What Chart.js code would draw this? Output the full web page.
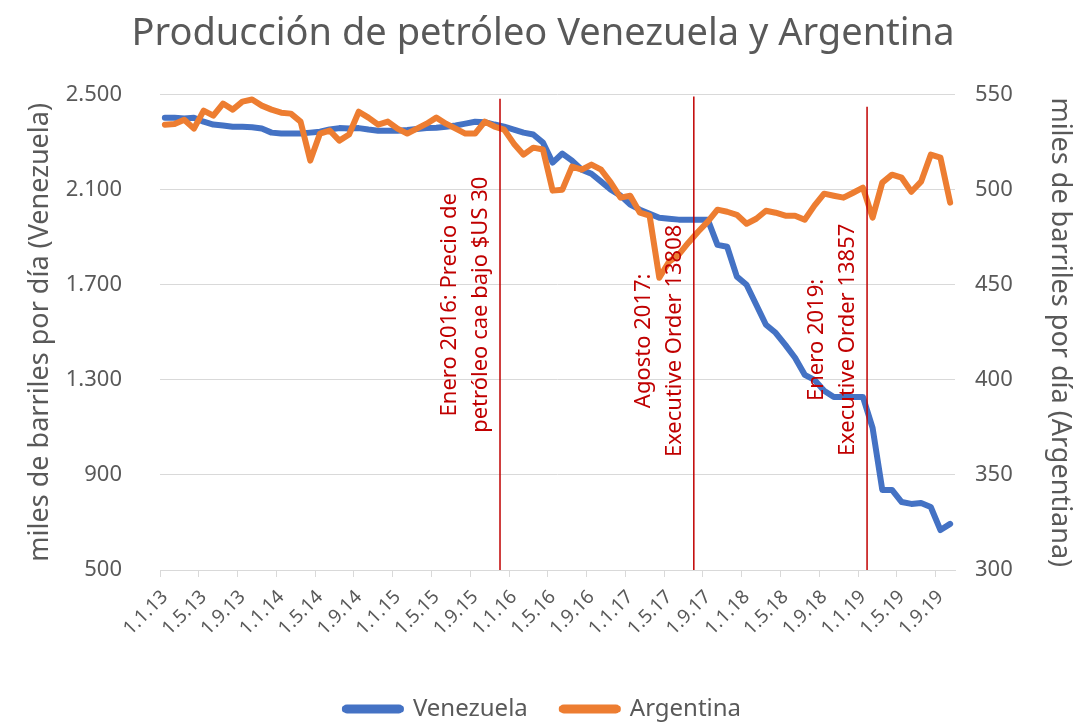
<!DOCTYPE html>
<html>
<head>
<meta charset="utf-8">
<script src="https://cdn.jsdelivr.net/npm/chart.js@4"></script>
<style>
  html, body { margin: 0; padding: 0; background: #fff; }
  #wrap { width: 1086px; height: 725px; position: relative; }
</style>
</head>
<body>
<div id="wrap"><canvas id="oilChart"></canvas></div>
<script>
const months = [
  '1.1.13','1.2.13','1.3.13','1.4.13','1.5.13','1.6.13','1.7.13','1.8.13','1.9.13','1.10.13','1.11.13','1.12.13',
  '1.1.14','1.2.14','1.3.14','1.4.14','1.5.14','1.6.14','1.7.14','1.8.14','1.9.14','1.10.14','1.11.14','1.12.14',
  '1.1.15','1.2.15','1.3.15','1.4.15','1.5.15','1.6.15','1.7.15','1.8.15','1.9.15','1.10.15','1.11.15','1.12.15',
  '1.1.16','1.2.16','1.3.16','1.4.16','1.5.16','1.6.16','1.7.16','1.8.16','1.9.16','1.10.16','1.11.16','1.12.16',
  '1.1.17','1.2.17','1.3.17','1.4.17','1.5.17','1.6.17','1.7.17','1.8.17','1.9.17','1.10.17','1.11.17','1.12.17',
  '1.1.18','1.2.18','1.3.18','1.4.18','1.5.18','1.6.18','1.7.18','1.8.18','1.9.18','1.10.18','1.11.18','1.12.18',
  '1.1.19','1.2.19','1.3.19','1.4.19','1.5.19','1.6.19','1.7.19','1.8.19','1.9.19','1.10.19'
];

// miles de barriles por dia
const venezuela = [
  2403, 2403, 2399, 2403, 2386, 2374, 2370, 2365, 2365, 2363, 2357, 2340,
  2336, 2336, 2336, 2340, 2344, 2353, 2359, 2357, 2359, 2353, 2348, 2348,
  2348, 2351, 2355, 2359, 2361, 2365, 2370, 2378, 2386, 2384, 2374, 2365,
  2353, 2340, 2332, 2298, 2214, 2252, 2222, 2184, 2167, 2134, 2100, 2075,
  2037, 2016, 1999, 1982, 1978, 1974, 1974, 1974, 1974, 1868, 1860, 1734,
  1700, 1616, 1532, 1498, 1447, 1393, 1321, 1300, 1254, 1228, 1228, 1228,
  1228, 1098, 837, 837, 786, 778, 782, 765, 668, 694
];
const argentina = [
  534.2, 534.5, 536.8, 532.1, 541.6, 538.9, 545.3, 542.1, 546.3, 547.4, 544.2, 542.1,
  540.5, 540.0, 535.8, 515.3, 529.5, 531.1, 525.8, 529.0, 541.0, 537.9, 534.2, 535.8,
  532.1, 529.5, 532.1, 534.7, 537.9, 534.7, 532.1, 529.5, 529.5, 535.8, 533.2, 531.6,
  524.2, 518.4, 522.1, 521.1, 499.5, 500.0, 512.1, 510.5, 513.2, 510.5, 503.7, 495.8,
  496.8, 487.9, 486.3, 453.7, 462.1, 465.8, 472.1, 477.9, 483.2, 489.5, 488.4, 486.8,
  482.1, 484.7, 488.9, 487.9, 486.3, 486.3, 484.2, 491.6, 497.9, 496.8, 495.8, 498.4,
  501.1, 485.3, 503.7, 507.9, 506.3, 498.9, 504.2, 518.4, 516.8, 493.2
];

// eventos marcados con lineas rojas (posicion en meses desde 1.1.13)
const eventAt = [34.57, 54.56, 72.43];
const eventTop = [2483, 2492, 2449];
const eventMid = [1616, 1464, 1468];
const eventText = [
  ['Enero 2016: Precio de', 'petróleo cae bajo $US 30'],
  ['Agosto 2017:', 'Executive Order 13808'],
  ['Enero 2019:', 'Executive Order 13857']
];

const FONT = "'Noto Sans', 'DejaVu Sans', sans-serif";
const GREY = '#595959';
const PAD_BOTTOM = -6;

function miles(v) {
  return String(v).replace(/\B(?=(\d{3})+(?!\d))/g, '.');
}

const eventLines = {
  id: 'eventLines',
  afterDatasetsDraw(chart) {
    const { ctx, scales: { x, y } } = chart;
    ctx.save();
    ctx.strokeStyle = '#C00000';
    ctx.fillStyle = '#C00000';
    ctx.lineWidth = 1.5;
    ctx.font = '22px ' + FONT;
    ctx.textAlign = 'center';
    ctx.textBaseline = 'middle';
    eventAt.forEach((at, i) => {
      const px = x.getPixelForValue(at);
      ctx.beginPath();
      ctx.moveTo(px, y.getPixelForValue(eventTop[i]));
      ctx.lineTo(px, y.bottom);
      ctx.stroke();
      ctx.save();
      ctx.translate(px, y.getPixelForValue(eventMid[i]));
      ctx.rotate(-Math.PI / 2);
      eventText[i].forEach((t, j) => ctx.fillText(t, 0, -50 + j * 31));
      ctx.restore();
    });
    ctx.restore();
  }
};

const chart = new Chart(document.getElementById('oilChart'), {
  type: 'line',
  data: {
    labels: months,
    datasets: [{
      label: 'Venezuela',
      data: venezuela,
      yAxisID: 'y',
      borderColor: '#4472C4',
      backgroundColor: '#4472C4',
      borderWidth: 6,
      order: 1
    }, {
      label: 'Argentina',
      data: argentina,
      yAxisID: 'y2',
      borderColor: '#ED7D31',
      backgroundColor: '#ED7D31',
      borderWidth: 6,
      order: 0
    }]
  },
  options: {
    responsive: true,
    maintainAspectRatio: false,
    animation: false,
    devicePixelRatio: 1,
    layout: { padding: { top: 0, left: 0, right: 0, bottom: PAD_BOTTOM } },
    elements: {
      point: { radius: 0 },
      line: { tension: 0, fill: false, borderJoinStyle: 'round', borderCapStyle: 'round' }
    },
    plugins: {
      title: {
        display: true,
        text: 'Producción de petróleo Venezuela y Argentina',
        color: GREY,
        font: { family: FONT, size: 38, weight: 'normal' },
        padding: { top: 11, bottom: 38 }
      },
      legend: {
        position: 'bottom',
        labels: {
          boxWidth: 56,
          boxHeight: 3,
          useBorderRadius: true,
          borderRadius: 2,
          padding: 34,
          color: GREY,
          font: { family: FONT, size: 24 },
          sort: (a, b) => a.datasetIndex - b.datasetIndex
        }
      },
      tooltip: { enabled: false }
    },
    scales: {
      x: {
        offset: true,
        grid: {
          offset: true,
          drawOnChartArea: false,
          drawTicks: true,
          tickLength: 7,
          color: c => (c.index % 4 === 0 ? '#d9d9d9' : 'rgba(0,0,0,0)')
        },
        border: { display: true, color: '#d9d9d9' },
        ticks: {
          autoSkip: false,
          maxRotation: 45,
          minRotation: 45,
          padding: 9,
          color: GREY,
          font: { family: FONT, size: 19 },
          callback: function (v, i) { return i % 4 === 0 ? this.getLabelForValue(v) : ''; }
        },
        afterFit: s => { s.height = s.chart.height - PAD_BOTTOM - 570 - s.chart.legend.height; }
      },
      y: {
        position: 'left',
        min: 500,
        max: 2500,
        ticks: {
          stepSize: 400,
          padding: 38,
          color: GREY,
          font: { family: FONT, size: 22 },
          callback: v => miles(v)
        },
        grid: { color: '#d9d9d9', drawTicks: false },
        border: { display: false },
        title: {
          display: true,
          text: 'miles de barriles por día (Venezuela)',
          color: GREY,
          font: { family: FONT, size: 27 },
          padding: { top: 24, bottom: 0 }
        },
        afterFit: s => { s.width = 160; }
      },
      y2: {
        position: 'right',
        min: 300,
        max: 550,
        ticks: {
          stepSize: 50,
          padding: 20,
          color: GREY,
          font: { family: FONT, size: 22 }
        },
        grid: { drawOnChartArea: false, drawTicks: false },
        border: { display: false },
        title: {
          display: true,
          text: 'miles de barriles por día (Argentiana)',
          color: GREY,
          font: { family: FONT, size: 27 },
          padding: { top: 10, bottom: 0 }
        },
        afterFit: s => { s.width = 131; }
      }
    }
  },
  plugins: [eventLines]
});
</script>
</body>
</html>
